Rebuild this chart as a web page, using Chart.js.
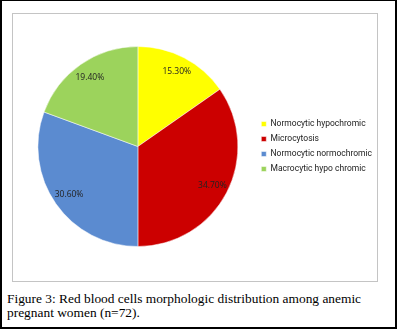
<!DOCTYPE html>
<html>
<head>
<meta charset="utf-8">
<script src="https://cdn.jsdelivr.net/npm/chart.js@4.4.0/dist/chart.umd.min.js"></script>
<style>
  html, body { margin: 0; padding: 0; background: #fff; }
  #frame {
    position: absolute; left: 0; top: 0; width: 397px; height: 329px;
    box-sizing: border-box; border-left: 2px solid #000; border-right: 2px solid #000;
    border-top: 1px solid #000; border-bottom: 2px solid #000;
  }
  #box {
    position: absolute; left: 10px; top: 12px; width: 364px; height: 267px;
    border: 1px solid #c4c4c4;
  }
  #pieChart { position: absolute; left: 0; top: 0; }
  #caption {
    position: absolute; left: 5px; top: 291px; width: 365px;
    font-family: "Liberation Serif", "DejaVu Serif", serif; font-size: 13.4px;
    line-height: 14px; color: #000;
  }
</style>
</head>
<body>
<div id="frame">
  <div id="box"><canvas id="pieChart" width="371" height="267"></canvas></div>
  <div id="caption">Figure 3: Red blood cells morphologic distribution among anemic pregnant women (n=72).</div>
</div>
<script>
// datos del gráfico
const categories = ["Normocytic hypochromic", "Microcytosis", "Normocytic normochromic", "Macrocytic hypo chromic"];
const percentages = [15.3, 34.7, 30.6, 19.4];
const sliceColors = ["#ffff00", "#cc0000", "#5b8bd0", "#9cd35c"];

// etiquetas de porcentaje dentro de cada sector
const sliceLabels = {
  id: "sliceLabels",
  afterDatasetsDraw(chart) {
    const ctx = chart.ctx;
    const meta = chart.getDatasetMeta(0);
    ctx.save();
    ctx.font = "8.5px 'Open Sans', sans-serif";
    ctx.fillStyle = "#222";
    ctx.textAlign = "center";
    ctx.textBaseline = "middle";
    meta.data.forEach((arc, i) => {
      const mid = (arc.startAngle + arc.endAngle) / 2;
      const r = arc.outerRadius * 0.84;
      ctx.fillText(percentages[i].toFixed(2) + "%", arc.x + Math.cos(mid) * r, arc.y + Math.sin(mid) * r);
    });
    ctx.restore();
  }
};

new Chart(document.getElementById("pieChart").getContext("2d"), {
  type: "pie",
  data: {
    labels: categories,
    datasets: [{
      data: percentages,
      backgroundColor: sliceColors,
      borderColor: "#ffffff",
      borderWidth: 0.5,
      hoverOffset: 0
    }]
  },
  options: {
    responsive: false,
    animation: false,
    radius: 100,
    layout: { padding: { left: 8, top: 32, bottom: 34, right: 2 } },
    plugins: {
      tooltip: { enabled: false },
      legend: {
        position: "right",
        labels: {
          boxWidth: 5, boxHeight: 5, padding: 6.5,
          font: { family: "Roboto, sans-serif", size: 8.5 },
          color: "#222"
        }
      }
    }
  },
  plugins: [sliceLabels]
});
</script>
</body>
</html>
